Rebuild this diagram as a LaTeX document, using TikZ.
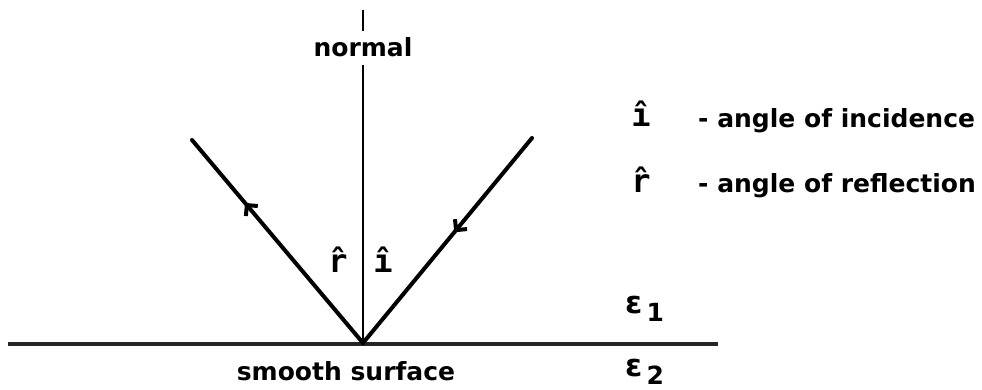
\documentclass[tikz,border=0pt]{standalone}
\usepackage{fontspec}
\setmainfont{DejaVu Sans}
\newfontfamily\hatfont{DejaVu Sans Mono}
\usetikzlibrary{arrows.meta,decorations.markings}
\newcommand{\medium}[1]{\raisebox{8pt}{\fontsize{31}{34}\selectfont ε}\,#1}

\begin{document}
\begin{tikzpicture}[
  x=1pt, y=-1pt,
  lbl/.style={inner sep=0pt, font=\fontsize{25}{30}\selectfont\bfseries},
  hatlbl/.style={inner sep=0pt, font=\fontsize{32}{36}\selectfont\hatfont\bfseries},
  ray/.style={line width=4pt, line cap=round},
  midarrow/.style={postaction={decorate}, decoration={markings,
    mark=at position #1 with {\arrow{Straight Barb[angle=90:11pt, line width=4pt]}}}},
  normalline/.style={line width=1.6pt},
  surface/.style={line width=4pt, black!85}
]
\useasboundingbox (0,0) rectangle (982,390);
% points of the ray diagram
\coordinate (hit) at (363,343);
\coordinate (inc) at (532,138);
\coordinate (refl) at (192,140);
\coordinate (surfL) at (8,344);
\coordinate (surfR) at (718,344);
\coordinate (normtop) at (363,10);
% normal with its label
\node[lbl, anchor=base, inner ysep=7pt] (normal) at (363,57) {normal};
\draw[normalline] (normtop) -- (normal.north);
\draw[normalline] (normal.south) -- (hit);
% surface and rays
\draw[surface] (surfL) -- (surfR);
\draw[ray, midarrow=0.46] (inc) -- (hit);
\draw[ray, midarrow=0.69] (hit) -- (refl);
\node[lbl, anchor=base] (surf) at (346,380) {smooth surface};
% angle marks
\node[hatlbl, anchor=base] (rhat) at (338,272) {r̂};
\node[hatlbl, anchor=base] (ihat) at (383,272) {î};
% media
\node[lbl, anchor=base west] (eps1) at (625,321) {\medium{1}};
\node[lbl, anchor=base west] (eps2) at (625,384) {\medium{2}};
% legend
\node[hatlbl, anchor=base] (keyi) at (641,127) {î};
\node[lbl, anchor=base west] (keyitext) at (698,128) {- angle of incidence};
\node[hatlbl, anchor=base] (keyr) at (641,193) {r̂};
\node[lbl, anchor=base west] (keyrtext) at (698,193) {- angle of reflection};
\end{tikzpicture}
\end{document}
